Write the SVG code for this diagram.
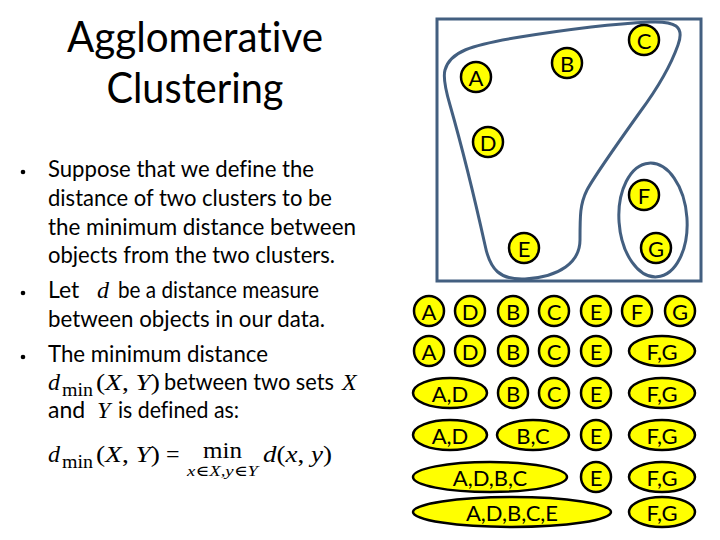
<svg xmlns="http://www.w3.org/2000/svg" width="720" height="540" viewBox="0 0 720 540">
<style>
text{font-variant-ligatures:none}
.t{font-family:Lato,"Open Sans","Liberation Sans",sans-serif;fill:#000}
.m{font-family:"Liberation Serif","DejaVu Serif",serif;fill:#000}
.i{font-style:italic}
.n{fill:#ffff00;stroke:#000;stroke-width:2.5}
.l{font-family:Lato,"Open Sans","Liberation Sans",sans-serif;font-size:22px;fill:#000;text-anchor:middle;dominant-baseline:central}
.c{fill:none;stroke:#435f80;stroke-width:3}
</style>
<rect width="720" height="540" fill="#fff"/>
<g id="title">
<text class="t" x="195" y="52" font-size="42" text-anchor="middle" textLength="256" lengthAdjust="spacingAndGlyphs">Agglomerative</text>
<text class="t" x="195" y="103" font-size="42" text-anchor="middle" textLength="177" lengthAdjust="spacingAndGlyphs">Clustering</text>
</g>
<g id="body">
<circle cx="23" cy="172" r="2.3"/>
<circle cx="23" cy="293" r="2.3"/>
<circle cx="23" cy="357" r="2.3"/>
<text class="t" x="48" y="177" font-size="23" textLength="266" lengthAdjust="spacingAndGlyphs">Suppose that we define the</text>
<text class="t" x="48" y="206" font-size="23" textLength="284" lengthAdjust="spacingAndGlyphs">distance of two clusters to be</text>
<text class="t" x="48" y="235" font-size="23" textLength="308" lengthAdjust="spacingAndGlyphs">the minimum distance between</text>
<text class="t" x="48" y="263" font-size="23" textLength="287" lengthAdjust="spacingAndGlyphs">objects from the two clusters.</text>
<text class="t" x="48" y="298" font-size="23">Let</text>
<text class="m i" x="97" y="298" font-size="24">d</text>
<text class="t" x="118" y="298" font-size="23" textLength="201" lengthAdjust="spacingAndGlyphs">be a distance measure</text>
<text class="t" x="48" y="327" font-size="23" textLength="277" lengthAdjust="spacingAndGlyphs">between objects in our data.</text>
<text class="t" x="48" y="362" font-size="23" textLength="220" lengthAdjust="spacingAndGlyphs">The minimum distance</text>
<text class="m i" x="48" y="390" font-size="24">d</text>
<text class="m" x="62" y="396" font-size="18" textLength="31" lengthAdjust="spacingAndGlyphs">min</text>
<text class="m" x="96" y="390" font-size="24" textLength="64" lengthAdjust="spacingAndGlyphs">(<tspan class="i">X</tspan>, <tspan class="i">Y</tspan>)</text>
<text class="t" x="164" y="390" font-size="23" textLength="170" lengthAdjust="spacingAndGlyphs">between two sets</text>
<text class="m i" x="342" y="390" font-size="24">X</text>
<text class="t" x="48" y="418" font-size="23">and</text>
<text class="m i" x="97" y="418" font-size="24">Y</text>
<text class="t" x="118" y="418" font-size="23" textLength="121" lengthAdjust="spacingAndGlyphs">is defined as:</text>
<text class="m i" x="48" y="462" font-size="24">d</text>
<text class="m" x="62" y="468" font-size="18" textLength="31" lengthAdjust="spacingAndGlyphs">min</text>
<text class="m" x="96" y="462" font-size="24" textLength="64" lengthAdjust="spacingAndGlyphs">(<tspan class="i">X</tspan>, <tspan class="i">Y</tspan>)</text>
<text class="m" x="166" y="462" font-size="24">=</text>
<text class="m" x="203" y="458" font-size="24" textLength="39" lengthAdjust="spacingAndGlyphs">min</text>
<text class="m i" x="187" y="476" font-size="15" textLength="71" lengthAdjust="spacingAndGlyphs">x∈X,y∈Y</text>
<text class="m" x="263" y="462" font-size="24" textLength="69" lengthAdjust="spacingAndGlyphs"><tspan class="i">d</tspan>(<tspan class="i">x</tspan>, <tspan class="i">y</tspan>)</text>
</g>
<g id="scatter">
<rect x="437" y="19" width="264" height="262" class="c"/>
<path class="c" d="M445,70 C450,52 470,45 520,37 C570,29 610,24 650,22 C675,21 685,26 678,45 C672,62 660,85 640,112 C615,147 595,175 587,190 C580,204 580,215 580,240 C580,262 560,277 525,279 C500,280 490,270 485,245 C475,200 460,140 450,105 C445,88 443,77 445,70 Z"/>
<ellipse class="c" cx="653" cy="220" rx="34" ry="57" transform="rotate(-4 653 220)"/>
<g id="sA"><circle class="n" cx="476" cy="77" r="15"/><text class="l" x="476" y="77">A</text></g>
<g id="sB"><circle class="n" cx="567" cy="63" r="15"/><text class="l" x="567" y="63">B</text></g>
<g id="sC"><circle class="n" cx="644" cy="40" r="15"/><text class="l" x="644" y="40">C</text></g>
<g id="sD"><circle class="n" cx="488" cy="142" r="15"/><text class="l" x="488" y="142">D</text></g>
<g id="sE"><circle class="n" cx="524" cy="248" r="15"/><text class="l" x="524" y="248">E</text></g>
<g id="sF"><circle class="n" cx="644" cy="195" r="15"/><text class="l" x="644" y="195">F</text></g>
<g id="sG"><circle class="n" cx="656" cy="248" r="15"/><text class="l" x="656" y="248">G</text></g>
</g>
<g id="row1">
<g id="r1A"><circle class="n" cx="429" cy="311" r="15"/><text class="l" x="429" y="311">A</text></g>
<g id="r1D"><circle class="n" cx="470" cy="311" r="15"/><text class="l" x="470" y="311">D</text></g>
<g id="r1B"><circle class="n" cx="513" cy="311" r="15"/><text class="l" x="513" y="311">B</text></g>
<g id="r1C"><circle class="n" cx="554" cy="311" r="15"/><text class="l" x="554" y="311">C</text></g>
<g id="r1E"><circle class="n" cx="596" cy="311" r="15"/><text class="l" x="596" y="311">E</text></g>
<g id="r1F"><circle class="n" cx="637" cy="311" r="15"/><text class="l" x="637" y="311">F</text></g>
<g id="r1G"><circle class="n" cx="680" cy="311" r="15"/><text class="l" x="680" y="311">G</text></g>
</g>
<g id="row2">
<g id="r2A"><circle class="n" cx="429" cy="351" r="15"/><text class="l" x="429" y="351">A</text></g>
<g id="r2D"><circle class="n" cx="470" cy="351" r="15"/><text class="l" x="470" y="351">D</text></g>
<g id="r2B"><circle class="n" cx="513" cy="351" r="15"/><text class="l" x="513" y="351">B</text></g>
<g id="r2C"><circle class="n" cx="554" cy="351" r="15"/><text class="l" x="554" y="351">C</text></g>
<g id="r2E"><circle class="n" cx="596" cy="351" r="15"/><text class="l" x="596" y="351">E</text></g>
<g id="r2FG"><ellipse class="n" cx="662" cy="351" rx="33" ry="15"/><text class="l" x="662" y="351">F,G</text></g>
</g>
<g id="row3">
<g id="r3AD"><ellipse class="n" cx="450" cy="393" rx="37" ry="15"/><text class="l" x="450" y="393">A,D</text></g>
<g id="r3B"><circle class="n" cx="513" cy="393" r="15"/><text class="l" x="513" y="393">B</text></g>
<g id="r3C"><circle class="n" cx="554" cy="393" r="15"/><text class="l" x="554" y="393">C</text></g>
<g id="r3E"><circle class="n" cx="596" cy="393" r="15"/><text class="l" x="596" y="393">E</text></g>
<g id="r3FG"><ellipse class="n" cx="662" cy="393" rx="33" ry="15"/><text class="l" x="662" y="393">F,G</text></g>
</g>
<g id="row4">
<g id="r4AD"><ellipse class="n" cx="450" cy="435" rx="37" ry="15"/><text class="l" x="450" y="435">A,D</text></g>
<g id="r4BC"><ellipse class="n" cx="533" cy="435" rx="36" ry="15"/><text class="l" x="533" y="435">B,C</text></g>
<g id="r4E"><circle class="n" cx="596" cy="435" r="15"/><text class="l" x="596" y="435">E</text></g>
<g id="r4FG"><ellipse class="n" cx="662" cy="435" rx="33" ry="15"/><text class="l" x="662" y="435">F,G</text></g>
</g>
<g id="row5">
<g id="r5ADBC"><ellipse class="n" cx="490" cy="477" rx="77" ry="15"/><text class="l" x="490" y="477">A,D,B,C</text></g>
<g id="r5E"><circle class="n" cx="596" cy="477" r="15"/><text class="l" x="596" y="477">E</text></g>
<g id="r5FG"><ellipse class="n" cx="662" cy="477" rx="33" ry="15"/><text class="l" x="662" y="477">F,G</text></g>
</g>
<g id="row6">
<g id="r6ADBCE"><ellipse class="n" cx="512" cy="512" rx="99" ry="15"/><text class="l" x="512" y="512">A,D,B,C,E</text></g>
<g id="r6FG"><ellipse class="n" cx="662" cy="512" rx="33" ry="15"/><text class="l" x="662" y="512">F,G</text></g>
</g>
</svg>
